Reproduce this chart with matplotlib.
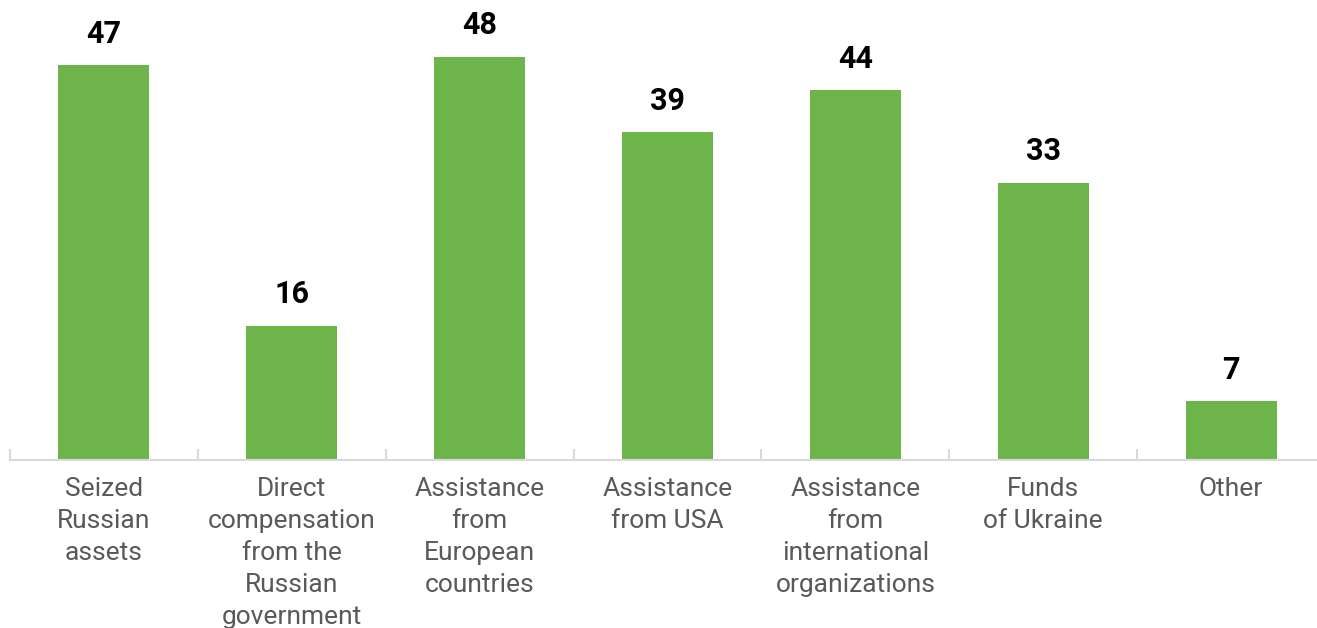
import matplotlib
matplotlib.use("Agg")
import matplotlib.pyplot as plt
from matplotlib.ticker import FixedLocator

categories = ["Seized\nRussian\nassets",
              "Direct\ncompensation\nfrom the\nRussian\ngovernment",
              "Assistance\nfrom\nEuropean\ncountries",
              "Assistance\nfrom USA",
              "Assistance\nfrom\ninternational\norganizations",
              "Funds\nof Ukraine",
              "Other"]
values = [47, 16, 48, 39, 44, 33, 7]

plt.rcParams['font.family'] = ['Roboto', 'DejaVu Sans']

W, H = 1317, 628
fig = plt.figure(figsize=(W / 100, H / 100), dpi=100)
ax = fig.add_axes([10 / W, (H - 460) / H, (W - 10) / W, 460 / H])

x = list(range(len(categories)))
ax.bar(x, values, width=0.485, color="#6DB44A", zorder=2)
ax.set_xlim(-0.5, 6.5 - 8 / 188)
ax.set_ylim(0, 460 / 8.4)

for xi, v in zip(x, values):
    ax.annotate(str(v), (xi, v), xytext=(0, 12), textcoords="offset points",
                ha="center", va="bottom", fontsize=22, fontweight="bold", color="#000000")

for s in ["top", "right", "left"]:
    ax.spines[s].set_visible(False)
ax.spines["bottom"].set_color("#D9D9D9")
ax.spines["bottom"].set_linewidth(1.5)
ax.set_yticks([])

ax.set_xticks(x)
ax.set_xticklabels(categories, fontsize=19, color="#595959", linespacing=1.43, va="top")
ax.tick_params(axis="x", length=0, pad=12)

ax.xaxis.set_minor_locator(FixedLocator([i - 0.5 for i in range(len(categories) + 1)]))
ax.tick_params(axis="x", which="minor", direction="in", length=8, width=1.5, color="#D9D9D9")

fig.savefig("out.png", dpi=100)
